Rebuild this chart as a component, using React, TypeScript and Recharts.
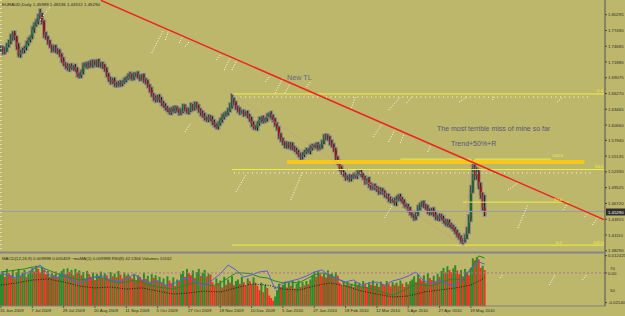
import React from 'react';
import { ComposedChart, Bar, Line, XAxis, YAxis, ReferenceLine } from 'recharts';

// ---------------- data ----------------
const SLOTS = 309; // bar slots visible across the plot (incl. empty future space)

const dateLabels = ['15 Jun 2009', '7 Jul 2009', '29 Jul 2009', '20 Aug 2009', '11 Sep 2009', '5 Oct 2009', '27 Oct 2009', '18 Nov 2009', '10 Dec 2009', '5 Jan 2010', '27 Jan 2010', '18 Feb 2010', '12 Mar 2010', '5 Apr 2010', '27 Apr 2010', '19 May 2010'];
const dateTickIdx = [0, 16, 32, 48, 64, 80, 96, 112, 128, 144, 160, 176, 192, 208, 224, 240];

const priceTicks = [1.80295, 1.7749, 1.74685, 1.7188, 1.69075, 1.6627, 1.63465, 1.6066, 1.5794, 1.55135, 1.5233, 1.49525, 1.4672, 1.43915, 1.4111, 1.3829];

const firstOpen = 1.740;
const closes = [
  1.744, 1.737, 1.740, 1.749, 1.754, 1.762, 1.770, 1.762, 1.747, 1.731, 1.737, 1.740, 1.744, 1.751, 1.758, 1.763, 1.776, 1.785, 1.790, 1.797, 1.802, 1.790, 1.767, 1.762, 1.754,
  1.747, 1.740, 1.744, 1.740, 1.737, 1.731, 1.722, 1.715, 1.712, 1.708, 1.712, 1.708, 1.710, 1.705, 1.697, 1.694, 1.701, 1.712, 1.715, 1.712, 1.717, 1.713, 1.719, 1.715, 1.719, 1.713,
  1.715, 1.712, 1.705, 1.696, 1.687, 1.683, 1.687, 1.680, 1.678, 1.681, 1.680, 1.683, 1.687, 1.690, 1.694, 1.696, 1.690, 1.696, 1.697, 1.692, 1.689, 1.694, 1.687, 1.683, 1.676, 1.669, 1.660, 1.655, 1.651, 1.657, 1.651, 1.646, 1.641, 1.637, 1.633, 1.630, 1.635, 1.632, 1.637, 1.633, 1.628, 1.633, 1.639, 1.635, 1.630, 1.633, 1.641, 1.637, 1.644, 1.639, 1.633, 1.628, 1.623, 1.619, 1.616, 1.621, 1.617,
  1.612, 1.607, 1.603, 1.609, 1.616, 1.621, 1.625, 1.628, 1.633, 1.641, 1.651, 1.646, 1.637, 1.633, 1.630,
  1.630, 1.626, 1.628, 1.623, 1.616, 1.609, 1.603, 1.601, 1.609, 1.616, 1.619, 1.614, 1.617, 1.623, 1.626, 1.621, 1.616, 1.607, 1.601, 1.587, 1.580, 1.575, 1.569, 1.573, 1.568, 1.571, 1.566, 1.562, 1.559, 1.553, 1.550, 1.553, 1.559, 1.562, 1.560, 1.566, 1.569, 1.568, 1.571, 1.566, 1.569, 1.576, 1.584, 1.587, 1.582, 1.576, 1.571, 1.562, 1.548, 1.539, 1.530,
  1.523, 1.518, 1.512, 1.514, 1.511, 1.514, 1.518, 1.516, 1.521, 1.523, 1.518, 1.512, 1.505, 1.509, 1.500, 1.495, 1.498, 1.495, 1.491, 1.488, 1.491, 1.486, 1.482, 1.479, 1.475, 1.472, 1.473, 1.468, 1.475, 1.480, 1.475, 1.470, 1.464, 1.461, 1.457, 1.450, 1.445, 1.441, 1.450, 1.459, 1.464, 1.468, 1.463, 1.459, 1.454, 1.450, 1.456, 1.448, 1.443, 1.440, 1.445, 1.441, 1.436, 1.431, 1.434, 1.429, 1.425, 1.422, 1.416, 1.411, 1.406, 1.400, 1.402, 1.409, 1.420, 1.441, 1.491, 1.530, 1.516, 1.523, 1.498, 1.482, 1.4599, 1.4529,
];
// wick lengths in units of 0.001
const upperWicks = [
  4, 3, 5, 3, 4, 6, 3, 4, 3, 5, 3, 4, 3, 5, 4, 3, 6, 4, 5, 7, 11, 4, 3, 5, 3, 4, 3, 4, 5, 3, 4, 3, 5, 3, 4, 3, 4, 3, 5, 4,
  3, 4, 5, 3, 4, 3, 5, 4, 3, 4, 5, 3, 4, 3, 4, 3, 5, 3, 4, 3, 4, 5, 3, 4, 3, 4, 5, 3, 4, 3, 5, 4, 3, 4, 3, 4, 3, 5, 3, 4,
  3, 4, 5, 3, 4, 3, 4, 3, 5, 4, 3, 4, 3, 5, 4, 3, 4, 5, 3, 4, 3, 4, 3, 4, 5, 3, 4, 3, 5, 4, 3, 4, 3, 5, 4, 3, 4, 5, 11, 4,
  3, 4, 5, 3, 4, 3, 4, 3, 5, 4, 3, 4, 5, 3, 4, 3, 4, 3, 5, 4, 3, 4, 3, 5, 4, 3, 4, 3, 5, 4, 3, 4, 3, 4, 5, 3, 4, 3, 5, 4,
  3, 4, 5, 3, 4, 6, 4, 3, 5, 4, 3, 4, 3, 5, 4, 3, 4, 3, 5, 4, 3, 4, 5, 3, 4, 3, 4, 3, 5, 4, 3, 4, 3, 5, 4, 3, 4, 3, 5, 4,
  3, 4, 5, 3, 4, 3, 4, 3, 5, 4, 3, 4, 3, 5, 4, 3, 4, 3, 5, 4, 3, 4, 5, 3, 4, 3, 4, 3, 5, 4, 3, 4, 3, 4, 3, 4, 3, 4, 5, 6,
  8, 16, 6, 8, 5, 6, 4, 22,
];
const lowerWicks = [
  3, 5, 4, 3, 4, 3, 5, 4, 6, 3, 4, 3, 5, 4, 3, 4, 3, 5, 3, 4, 3, 4, 5, 3, 4, 3, 4, 3, 5, 4, 3, 4, 3, 5, 4, 6, 3, 4, 3, 5,
  4, 3, 4, 3, 5, 4, 3, 4, 3, 5, 3, 4, 5, 3, 4, 3, 4, 3, 5, 4, 3, 5, 4, 3, 4, 3, 5, 4, 3, 4, 3, 4, 3, 5, 4, 3, 4, 3, 5, 4,
  3, 4, 5, 3, 4, 3, 4, 5, 3, 4, 3, 4, 3, 5, 4, 3, 4, 3, 5, 4, 3, 4, 5, 3, 4, 3, 4, 3, 5, 4, 3, 4, 3, 5, 4, 3, 4, 3, 5, 4,
  3, 4, 5, 3, 4, 3, 4, 3, 5, 4, 3, 4, 3, 5, 4, 3, 4, 3, 5, 4, 3, 4, 5, 3, 4, 3, 4, 3, 5, 4, 3, 4, 3, 5, 4, 3, 4, 3, 5, 4,
  3, 4, 5, 3, 4, 3, 4, 3, 5, 4, 3, 4, 3, 5, 4, 3, 4, 3, 5, 4, 3, 4, 5, 3, 4, 3, 4, 3, 5, 4, 3, 4, 3, 5, 4, 3, 4, 3, 5, 4,
  3, 4, 5, 3, 4, 3, 4, 3, 5, 4, 3, 4, 3, 5, 4, 3, 4, 3, 5, 4, 3, 4, 5, 3, 4, 3, 4, 3, 5, 4, 3, 4, 3, 4, 3, 4, 7, 4, 5, 6,
  6, 5, 7, 6, 5, 6, 5, 8,
];

const volumes = [
  60, 66, 55, 70, 62, 58, 67, 52, 64, 70, 57, 63, 68, 55, 61, 66,
  72, 65, 76, 70, 63, 74, 68,
  60, 66, 55, 63, 58, 65, 54, 62,
  66, 70, 60, 71, 64, 68, 58, 70, 63, 67,
  58, 64, 52, 66, 60, 55, 63, 49, 61, 57, 65, 53, 62, 58, 50, 64, 56, 61, 54, 66, 59, 52, 63, 57, 60, 55,
  52, 60, 47, 58, 55, 49, 63, 51, 57, 46, 60, 53, 58, 48, 55,
  45, 52, 40, 56, 48, 43, 54, 38, 50, 47,
  60, 66, 55, 70, 62, 58, 67, 53, 64, 70, 57, 63, 68, 56, 61, 59,
  45, 38, 52, 42, 48, 35, 55, 40, 50, 44, 56, 39, 47,
  50, 42, 55, 45, 38, 52, 47, 41, 54, 44,
  38, 30, 44, 26, 40, 34, 20, 15, 10, 18, 30, 42, 36,
  40, 46, 35, 44, 38, 47, 33, 42, 48, 36, 45, 39, 47, 41, 50,
  58, 64, 55, 66, 60, 56, 63, 54, 67, 59, 62, 55, 64, 57,
  44, 38, 47, 40, 45, 39,
  42, 36, 46, 40, 44, 37, 47, 41, 35, 45, 40, 48, 38, 43, 36, 46, 41, 39, 47, 42, 37, 45, 40, 44, 38, 48, 42, 36, 45, 41, 47,
  50, 56, 45, 60, 52, 48, 58, 44, 62, 53, 49, 57, 46, 61, 55,
  66, 72, 63, 75, 68, 64, 71, 77, 67,
  60, 68, 56, 70, 64, 58, 72,
  90, 86, 92, 88,
  72, 76, 68,
];

// RSI(8) points: [bar index, value]
const rsiPoints = [
  [0, 65.5], [4, 62.7], [8, 60.9], [12, 64.5], [16, 68.2], [20, 72.7], [24, 64.5], [28, 60.9], [32, 63.6], [36, 59.1],
  [40, 56.4], [44, 60.0], [48, 61.8], [52, 62.7], [56, 59.1], [60, 57.3], [64, 60.0], [68, 64.5], [72, 59.1], [76, 56.4],
  [80, 58.2], [84, 54.5], [88, 55.5], [92, 59.1], [96, 60.9], [100, 56.4], [104, 54.5], [108, 59.1], [112, 64.5], [116, 72.7],
  [120, 68.2], [124, 61.8], [128, 63.6], [132, 66.4], [136, 67.3], [140, 50.9], [144, 56.4], [148, 58.2], [152, 60.0], [156, 62.7],
  [160, 66.4], [164, 68.2], [168, 62.7], [172, 60.0], [176, 57.3], [180, 59.1], [184, 54.5], [188, 56.4], [192, 57.3], [196, 54.5],
  [200, 58.2], [204, 60.0], [208, 62.7], [212, 66.4], [216, 58.2], [220, 56.4], [224, 59.1], [228, 55.5], [232, 53.6], [236, 60.9],
  [240, 70.0], [244, 75.5], [247, 73.6],
];
// MACD main points
const macdPoints = [
  [0, 0.0007], [4, 0.0014], [8, 0.0022], [12, 0.0029], [16, 0.0043], [20, 0.0043], [24, 0.0022], [28, 0], [32, -0.0022], [36, -0.0036],
  [40, -0.0051], [44, -0.0043], [48, -0.0029], [52, -0.0036], [56, -0.0058], [60, -0.0072], [64, -0.0065], [68, -0.0051], [72, -0.0065], [76, -0.0087],
  [80, -0.0101], [84, -0.0108], [88, -0.0116], [92, -0.0101], [96, -0.0079], [100, -0.0072], [104, -0.0079], [108, -0.0094], [112, -0.0072], [116, -0.0036],
  [120, 0], [124, 0], [128, -0.0007], [132, -0.0029], [136, -0.0036], [140, -0.0058], [144, -0.0072], [148, -0.0065], [152, -0.0072], [156, -0.0043],
  [160, -0.0014], [164, 0], [168, -0.0014], [172, -0.0043], [176, -0.0072], [180, -0.0087], [184, -0.0101], [188, -0.0108], [192, -0.0123], [196, -0.0144],
  [200, -0.0159], [204, -0.0137], [208, -0.0108], [212, -0.0079], [216, -0.0087], [220, -0.0094], [224, -0.0072], [228, -0.0051], [232, -0.0043], [236, -0.0051],
  [240, 0.0022], [244, 0.0123], [247, 0.0108],
];
// MACD signal points
const signalPoints = [
  [0, -0.0087], [8, -0.0072], [16, -0.0051], [24, -0.0043], [32, -0.0065], [40, -0.0094], [48, -0.0108], [56, -0.0101], [64, -0.0116], [72, -0.0108],
  [80, -0.0130], [88, -0.0152], [96, -0.0144], [104, -0.0130], [112, -0.0137], [120, -0.0108], [128, -0.0079], [136, -0.0087], [144, -0.0116], [152, -0.0123],
  [160, -0.0094], [168, -0.0072], [176, -0.0094], [184, -0.0130], [192, -0.0152], [200, -0.0173], [208, -0.0166], [216, -0.0137], [224, -0.0123], [232, -0.0108],
  [240, -0.0087], [247, -0.0036],
];

// drawn objects (data coordinates: bar index, price)
const trendLine = [[51, 1.8285], [308, 1.4384]];
const fib1 = { from: 118, high: 1.662, low: 1.393 };
const fib2 = { from: 236, to: 290, low: 1.393, high: 1.546, highFrom: 204, highTo: 281 };
const goldBand = { from: 146, to: 298, price: 1.5409 };
const currentPrice = 1.4529;
const whiteMarks = [
  [20, 1.7935, 25, 1.8166], [77, 1.7348, 83, 1.7757], [84, 1.7579, 86, 1.7793], [91, 1.7526, 93, 1.7651], [94, 1.7455, 96, 1.7544],
  [110, 1.7224, 112, 1.7313], [114, 1.7046, 117, 1.7259], [118, 1.7046, 121, 1.7259], [135, 1.6832, 137, 1.6921], [140, 1.6637, 144, 1.6903],
  [145, 1.6637, 148, 1.6814], [156, 1.6743, 158, 1.6832], [179, 1.637, 181, 1.6565], [198, 1.6334, 204, 1.6565], [207, 1.6459, 210, 1.6565],
  [234, 1.6476, 238, 1.6565], [251, 1.6512, 252, 1.6565], [284, 1.6476, 287, 1.6565], [120, 1.4875, 125, 1.5178], [148, 1.4733, 154, 1.5231],
  [190, 1.5854, 195, 1.6103], [198, 1.5765, 201, 1.5978], [204, 1.5747, 206, 1.5925], [218, 1.5587, 220, 1.5747], [196, 1.4413, 200, 1.4644],
  [259, 1.4911, 264, 1.5036], [264, 1.4235, 269, 1.4644], [287, 1.4555, 289, 1.4644], [298, 1.4431, 300, 1.4502], [302, 1.4288, 305, 1.4431],
  [94, 1.5943, 97, 1.6103],
];
const whiteDotRows = [[119, 302, 1.5213], [120, 300, 1.6565]];
const indWhiteMarks = [[255, -0.0036, 256, -0.0014], [280, -0.0087, 283, -0.0014], [297, -0.0051, 299, -0.0014]];

// ---------------- layout / style ----------------
const BG = '#BDB76B';
const FONT = 'Liberation Sans, Arial, sans-serif';
const PMAX = 1.8291;
const PMIN = 1.379;

const rows: any[] = Array.from({ length: SLOTS }, (_, i) => {
  const r: any = { i };
  if (i < closes.length) {
    const open = i === 0 ? firstOpen : closes[i - 1];
    const close = closes[i];
    const high = Math.max(open, close) + upperWicks[i] / 1000;
    const low = Math.min(open, close) - lowerWicks[i] / 1000;
    r.open = open; r.close = close; r.high = high; r.low = low; r.range = [low, high];
    r.vol = volumes[i];
    r.volUp = i === 0 || volumes[i] >= volumes[i - 1];
  }
  return r;
});
rsiPoints.forEach(([k, v]) => { rows[k].rsi = v; });
macdPoints.forEach(([k, v]) => { rows[k].macd = v; });
signalPoints.forEach(([k, v]) => { rows[k].signal = v; });

const Candle = (props: any) => {
  const { x, y, width, height, payload } = props;
  if (!payload || payload.open == null) return null;
  const { open, close, high, low } = payload;
  const top = Math.min(y, y + height);
  const h = Math.abs(height);
  const ppu = h / Math.max(high - low, 1e-9);
  const yO = top + (high - open) * ppu;
  const yC = top + (high - close) * ppu;
  const cx = x + width / 2;
  const up = close >= open;
  const bTop = Math.min(yO, yC);
  const bH = Math.max(1.2, Math.abs(yC - yO));
  return (
    <g>
      <rect x={cx - 2} y={top - 0.8} width={4} height={h + 1.6} fill="#7a7a84" opacity={0.7} />
      <line x1={cx} x2={cx} y1={top} y2={top + h} stroke="#1e1e1e" strokeWidth={1.1} />
      <rect x={cx - 1} y={bTop} width={2} height={bH} fill={up ? '#1a6a22' : '#a01212'} />
    </g>
  );
};

const VolBar = (props: any) => {
  const { x, y, width, height, payload } = props;
  if (!payload || payload.vol == null) return null;
  return <rect x={x + width / 2 - 1} y={y} width={2} height={height} fill={payload.volUp ? '#2d8a2d' : '#ee3322'} />;
};

const PriceTick = (p: any) => (
  <text x={p.x} y={p.y} dy={1.6} fontSize={4.3} fill="#2a2a2a" fontFamily={FONT}>{Number(p.payload.value).toFixed(5)}</text>
);

const indTicks = [0.012425, 0, -0.0214];
const indTickLabels = ['0.012425', '0.00', '-0.02140'];
const IndTick = (p: any) => {
  const k = indTicks.indexOf(p.payload.value);
  return <text x={p.x} y={p.y} dy={1.6} fontSize={4.3} fill="#2a2a2a" fontFamily={FONT}>{indTickLabels[k]}</text>;
};

const DateTick = (p: any) => {
  const k = dateTickIdx.indexOf(p.payload.value);
  return <text x={p.x - 1} y={p.y} dy={3.2} fontSize={4.3} fill="#2a2a2a" fontFamily={FONT}>{dateLabels[k]}</text>;
};

const seg = (a: number, pa: number, b: number, pb: number) => [{ x: a, y: pa }, { x: b, y: pb }] as any;

export default function App() {
  const yellow = '#F2EE48';
  return (
    <div style={{ position: 'absolute', left: 0, top: 0, width: 625, height: 316, background: BG, overflow: 'hidden' }}>
      <ComposedChart width={625} height={253} data={rows} margin={{ top: 0, right: 0, bottom: 0, left: 0 }} barCategoryGap={0} barGap={0}>
        <XAxis dataKey="i" type="category" hide />
        <YAxis orientation="right" width={20} domain={[PMIN, PMAX]} allowDataOverflow ticks={priceTicks} interval={0}
          tick={<PriceTick />} tickSize={2} tickMargin={1} tickLine={{ stroke: '#444' }} axisLine={{ stroke: '#505050' }} />
        <ReferenceLine x={0} stroke="#ffffff" strokeDasharray="1 3" ifOverflow="visible" />
        <ReferenceLine y={currentPrice} stroke="#9a9aac" strokeWidth={1} />
        {whiteMarks.map((m, k) => (
          <ReferenceLine key={'w' + k} segment={seg(m[0], m[1], m[2], m[3])} stroke="#ffffff" strokeWidth={1} strokeDasharray="1 1.6" ifOverflow="visible" />
        ))}
        {whiteDotRows.map((m, k) => (
          <ReferenceLine key={'d' + k} segment={seg(m[0], m[2], m[1], m[2])} stroke="#ffffff" strokeWidth={1} strokeDasharray="1 3.5" ifOverflow="visible" />
        ))}
        <ReferenceLine segment={seg(fib1.from, fib1.high, SLOTS - 1, fib1.high)} stroke={yellow} strokeWidth={1} ifOverflow="visible" />
        <ReferenceLine segment={seg(fib1.from, (fib1.high + fib1.low) / 2, SLOTS - 1, (fib1.high + fib1.low) / 2)} stroke={yellow} strokeWidth={1} ifOverflow="visible" />
        <ReferenceLine segment={seg(fib1.from, fib1.low, SLOTS - 1, fib1.low)} stroke={yellow} strokeWidth={1} ifOverflow="visible" />
        <ReferenceLine segment={seg(fib2.from, (fib2.high + fib2.low) / 2, fib2.to, (fib2.high + fib2.low) / 2)} stroke={yellow} strokeWidth={1} ifOverflow="visible" />
        <ReferenceLine segment={seg(fib2.highFrom, fib2.high, fib2.highTo, fib2.high)} stroke={yellow} strokeWidth={1} ifOverflow="visible" />
        <ReferenceLine segment={seg(goldBand.from, goldBand.price, goldBand.to, goldBand.price)} stroke="#F5C81A" strokeWidth={4} ifOverflow="visible" />
        <ReferenceLine segment={seg(fib1.from, fib1.high, fib2.from, fib1.low)} stroke="#d08a9a" strokeWidth={1} strokeDasharray="1 1.5" ifOverflow="visible" />
        <ReferenceLine segment={seg(fib2.from, fib2.low, 241, fib2.high)} stroke="#d08a9a" strokeWidth={1} strokeDasharray="1 1.5" ifOverflow="visible" />
        <Bar dataKey="range" shape={<Candle />} isAnimationActive={false} />
        <ReferenceLine segment={seg(trendLine[0][0], trendLine[0][1], trendLine[1][0], trendLine[1][1])} stroke="#F0221E" strokeWidth={1.5} ifOverflow="visible" />
      </ComposedChart>
      <div style={{ position: 'absolute', left: 0, top: 253 }}>
        <ComposedChart width={625} height={63} data={rows} margin={{ top: 0, right: 0, bottom: 0, left: 0 }} barCategoryGap={0} barGap={0}>
          <XAxis dataKey="i" type="category" ticks={dateTickIdx} interval={0} tick={<DateTick />} height={10}
            tickSize={2} tickMargin={1} axisLine={{ stroke: '#808080' }} tickLine={{ stroke: '#555' }} />
          <YAxis yAxisId="vol" hide domain={[0, 100]} />
          <YAxis yAxisId="rsi" hide domain={[35.5, 83.6]} allowDataOverflow />
          <YAxis yAxisId="macd" orientation="right" width={20} domain={[-0.0238, 0.0144]} allowDataOverflow ticks={indTicks} interval={0}
            tick={<IndTick />} tickSize={2} tickMargin={1} tickLine={{ stroke: '#444' }} axisLine={{ stroke: '#505050' }} />
          <Line yAxisId="macd" dataKey="signal" stroke="#1a1a1a" strokeWidth={1} strokeDasharray="1 1.5" dot={false} connectNulls isAnimationActive={false} />
          <Line yAxisId="macd" dataKey="macd" stroke="#1f8a2a" strokeWidth={1} dot={false} connectNulls isAnimationActive={false} />
          <Line yAxisId="rsi" dataKey="rsi" stroke="#5a5ae8" strokeWidth={1} dot={false} connectNulls isAnimationActive={false} />
          <Bar yAxisId="vol" dataKey="vol" shape={<VolBar />} isAnimationActive={false} />
          <ReferenceLine yAxisId="macd" y={0} stroke="#b0709a" strokeDasharray="2 2" />
          {indWhiteMarks.map((m, k) => (
            <ReferenceLine key={'iw' + k} yAxisId="macd" segment={seg(m[0], m[1], m[2], m[3])} stroke="#ffffff" strokeWidth={1} strokeDasharray="1 1.6" ifOverflow="visible" />
          ))}
        </ComposedChart>
      </div>
      <svg width={625} height={316} style={{ position: 'absolute', left: 0, top: 0, pointerEvents: 'none' }} fontFamily={FONT}>
        <line x1={0} y1={252.5} x2={605} y2={252.5} stroke="#84848a" strokeWidth={2} />
        <text x={2} y={6} fontSize={4.4} fill="#262626">EURAUD,Daily  1.45989 1.48136 1.44512 1.45290</text>
        <text x={2} y={260} fontSize={4.3} fill="#262626">MACD(12,26,9) 0.009998 0.005459  ~maMA(1) 0.009998  RSI(8) 42.5306  Volumes 10162</text>
        <text x={287} y={80} fontSize={7.2} fill="#66668a">New TL</text>
        <text x={437} y={131} fontSize={7} fill="#56567e">The most terrible miss of mine so far</text>
        <text x={451} y={146} fontSize={7} fill="#56567e">Trend+50%+R</text>
        <text x={597} y={92} fontSize={4.4} fill={yellow}>0.0</text>
        <text x={595} y={168} fontSize={4.4} fill={yellow}>50.0</text>
        <text x={593} y={244} fontSize={4.4} fill={yellow}>100.0</text>
        <text x={556} y={244} fontSize={4.4} fill={yellow}>0.0</text>
        <text x={554} y={201} fontSize={4.4} fill={yellow}>50.0</text>
        <text x={552} y={157} fontSize={4.4} fill={yellow}>100.0</text>
        <rect x={606} y={208.5} width={19} height={7} fill="#2e2e2e" />
        <text x={608} y={213.6} fontSize={4.3} fill="#ffffff">1.45290</text>
        <text x={610} y={269.6} fontSize={4.3} fill="#2a2a2a">70</text>
        <text x={610} y={291.6} fontSize={4.3} fill="#2a2a2a">50</text>
      </svg>
    </div>
  );
}
